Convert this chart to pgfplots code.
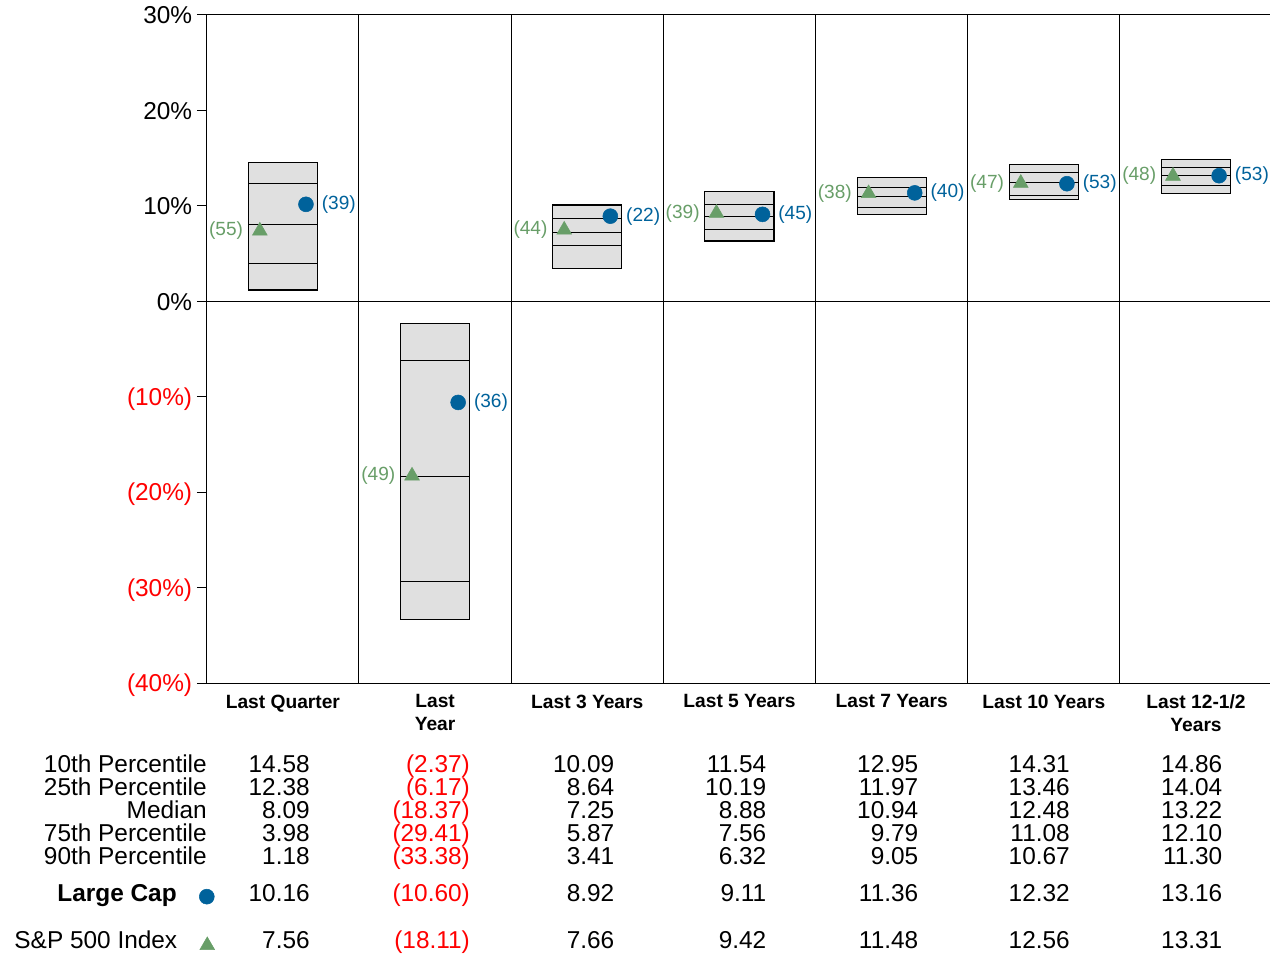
\documentclass[border=0pt]{standalone}
\usepackage{pgfplots}
\pgfplotsset{compat=1.18}
\usepackage{pgfplotstable}
\usepackage{fontspec}
\setmainfont{Liberation Sans}
\definecolor{lcblue}{RGB}{0,98,155}
\definecolor{spgreen}{RGB}{104,158,104}
\definecolor{boxgray}{RGB}{224,224,224}
\newcommand{\negv}[1]{\textcolor{red}{(#1\rlap{)}}}

\pgfplotstableread{
x p10 p25 med p75 p90 lc sp lcr spr
0.5 14.58 12.38 8.09 3.98 1.18 10.16 7.56 39 55
1.5 -2.37 -6.17 -18.37 -29.41 -33.38 -10.60 -18.11 36 49
2.5 10.09 8.64 7.25 5.87 3.41 8.92 7.66 22 44
3.5 11.54 10.19 8.88 7.56 6.32 9.11 9.42 45 39
4.5 12.95 11.97 10.94 9.79 9.05 11.36 11.48 40 38
5.5 14.31 13.46 12.48 11.08 10.67 12.32 12.56 53 47
6.5 14.86 14.04 13.22 12.10 11.30 13.16 13.31 53 48
}\data

\begin{document}
\begin{tikzpicture}
\begin{axis}[
  at={(155.1pt,-512.25pt)}, anchor=south west,
  scale only axis, width=799pt, height=501pt,
  xmin=0, xmax=7, ymin=-40, ymax=30,
  clip=false,
  axis x line=bottom, axis y line=left,
  axis line style={-, black, line width=0.75pt},
  ytick={-40,-30,-20,-10,0,10,20,30},
  yticklabels={\textcolor{red}{(40\%)},\textcolor{red}{(30\%)},\textcolor{red}{(20\%)},\textcolor{red}{(10\%)},0\%,10\%,20\%,30\%},
  yticklabel style={font=\fontsize{18.3}{22}\selectfont, text height=13.1pt, text depth=0pt},
  ytick style={black, line width=0.75pt},
  tick align=outside, major tick length=7.5pt,
  xtick={0.5,1.5,2.5,3.5,4.5,5.5,6.5},
  xticklabels={Last Quarter, Last\\Year, Last 3 Years, Last 5 Years, Last 7 Years, Last 10 Years, Last 12-1/2\\Years},
  xticklabel style={font=\fontsize{14.4}{17.25}\selectfont\bfseries, align=center, anchor=north, inner sep=0pt, yshift=-1pt},
  xtick style={draw=none},
  minor xtick={1,2,3,4,5,6},
  xminorgrids, minor grid style={black, line width=0.75pt},
  minor tick length=0pt,
]
% top and zero lines
\addplot[black, line width=0.75pt] coordinates {(0,30) (7,30)};
\addplot[black, line width=0.75pt] coordinates {(0,0) (7,0)};
% boxes (90th to 10th percentile)
\addplot[fill=boxgray, draw=black, line width=0.8pt] coordinates {(0.273,14.58) (0.727,14.58) (0.727,1.18) (0.273,1.18)} -- cycle;
\addplot[fill=boxgray, draw=black, line width=0.8pt] coordinates {(1.273,-2.37) (1.727,-2.37) (1.727,-33.38) (1.273,-33.38)} -- cycle;
\addplot[fill=boxgray, draw=black, line width=0.8pt] coordinates {(2.273,10.09) (2.727,10.09) (2.727,3.41) (2.273,3.41)} -- cycle;
\addplot[fill=boxgray, draw=black, line width=0.8pt] coordinates {(3.273,11.54) (3.727,11.54) (3.727,6.32) (3.273,6.32)} -- cycle;
\addplot[fill=boxgray, draw=black, line width=0.8pt] coordinates {(4.273,12.95) (4.727,12.95) (4.727,9.05) (4.273,9.05)} -- cycle;
\addplot[fill=boxgray, draw=black, line width=0.8pt] coordinates {(5.273,14.31) (5.727,14.31) (5.727,10.67) (5.273,10.67)} -- cycle;
\addplot[fill=boxgray, draw=black, line width=0.8pt] coordinates {(6.273,14.86) (6.727,14.86) (6.727,11.30) (6.273,11.30)} -- cycle;
% inner lines
\addplot[only marks, mark=-, mark size=25.9pt, mark options={black, line width=0.75pt}] table[x=x, y=p25] {\data};
\addplot[only marks, mark=-, mark size=25.9pt, mark options={black, line width=0.75pt}] table[x=x, y=med] {\data};
\addplot[only marks, mark=-, mark size=25.9pt, mark options={black, line width=0.75pt}] table[x=x, y=p75] {\data};
% S&P 500 triangles
\addplot[only marks, mark=triangle*, mark size=6.4pt, mark options={draw=spgreen, fill=spgreen, yshift=-1.3pt},
  point meta=explicit symbolic, nodes near coords={(\pgfplotspointmeta)},
  every node near coord/.append style={anchor=east, xshift=-12.4pt, inner sep=0pt, text=spgreen, font=\fontsize{14.3}{17}\selectfont}]
  table[x expr=\thisrow{x}-0.1515, y=sp, meta=spr] {\data};
% Large Cap circles
\addplot[only marks, mark=*, mark size=5.6pt, mark options={draw=lcblue, fill=lcblue},
  point meta=explicit symbolic, nodes near coords={(\pgfplotspointmeta)},
  every node near coord/.append style={anchor=west, xshift=11.7pt, inner sep=0pt, text=lcblue, font=\fontsize{14.3}{17}\selectfont}]
  table[x expr=\thisrow{x}+0.1515, y=lc, meta=lcr] {\data};
% legend markers in table
\addplot[only marks, mark=*, mark size=5.6pt, mark options={draw=lcblue, fill=lcblue}] coordinates {(0,-62.39)};
\addplot[only marks, mark=triangle*, mark size=6.4pt, mark options={draw=spgreen, fill=spgreen}] coordinates {(0.003,-67.5)};
\end{axis}
\begin{scope}[x=0.75pt,y=-0.75pt, every node/.style={font=\fontsize{18.3}{22}\selectfont, inner sep=0pt}]
\node[anchor=base east] at (207,772.3) {10th Percentile};
\node[anchor=base east] at (207,795.2) {25th Percentile};
\node[anchor=base east] at (207,818.2) {Median};
\node[anchor=base east] at (207,841.1) {75th Percentile};
\node[anchor=base east] at (207,864.0) {90th Percentile};
\node[anchor=base east, font=\fontsize{18.3}{22}\selectfont\bfseries] at (177,901.7) {Large Cap};
\node[anchor=base east] at (177.5,948.3) {S\&P 500 Index};
\foreach \xr/\a/\b/\c/\d/\e/\f/\g in {
  310/14.58/12.38/8.09/3.98/1.18/10.16/7.56,
  462/\negv{2.37}/\negv{6.17}/\negv{18.37}/\negv{29.41}/\negv{33.38}/\negv{10.60}/\negv{18.11},
  614.5/10.09/8.64/7.25/5.87/3.41/8.92/7.66,
  766.5/11.54/10.19/8.88/7.56/6.32/9.11/9.42,
  918.5/12.95/11.97/10.94/9.79/9.05/11.36/11.48,
  1070/14.31/13.46/12.48/11.08/10.67/12.32/12.56,
  1222.5/14.86/14.04/13.22/12.10/11.30/13.16/13.31}{
  \node[anchor=base east] at (\xr,772.3) {\a};
  \node[anchor=base east] at (\xr,795.2) {\b};
  \node[anchor=base east] at (\xr,818.2) {\c};
  \node[anchor=base east] at (\xr,841.1) {\d};
  \node[anchor=base east] at (\xr,864.0) {\e};
  \node[anchor=base east] at (\xr,901.7) {\f};
  \node[anchor=base east] at (\xr,948.3) {\g};
}
\end{scope}
\pgfresetboundingbox
\path[use as bounding box] (0pt,0pt) rectangle (952.5pt,-716.25pt);
\end{tikzpicture}
\end{document}
